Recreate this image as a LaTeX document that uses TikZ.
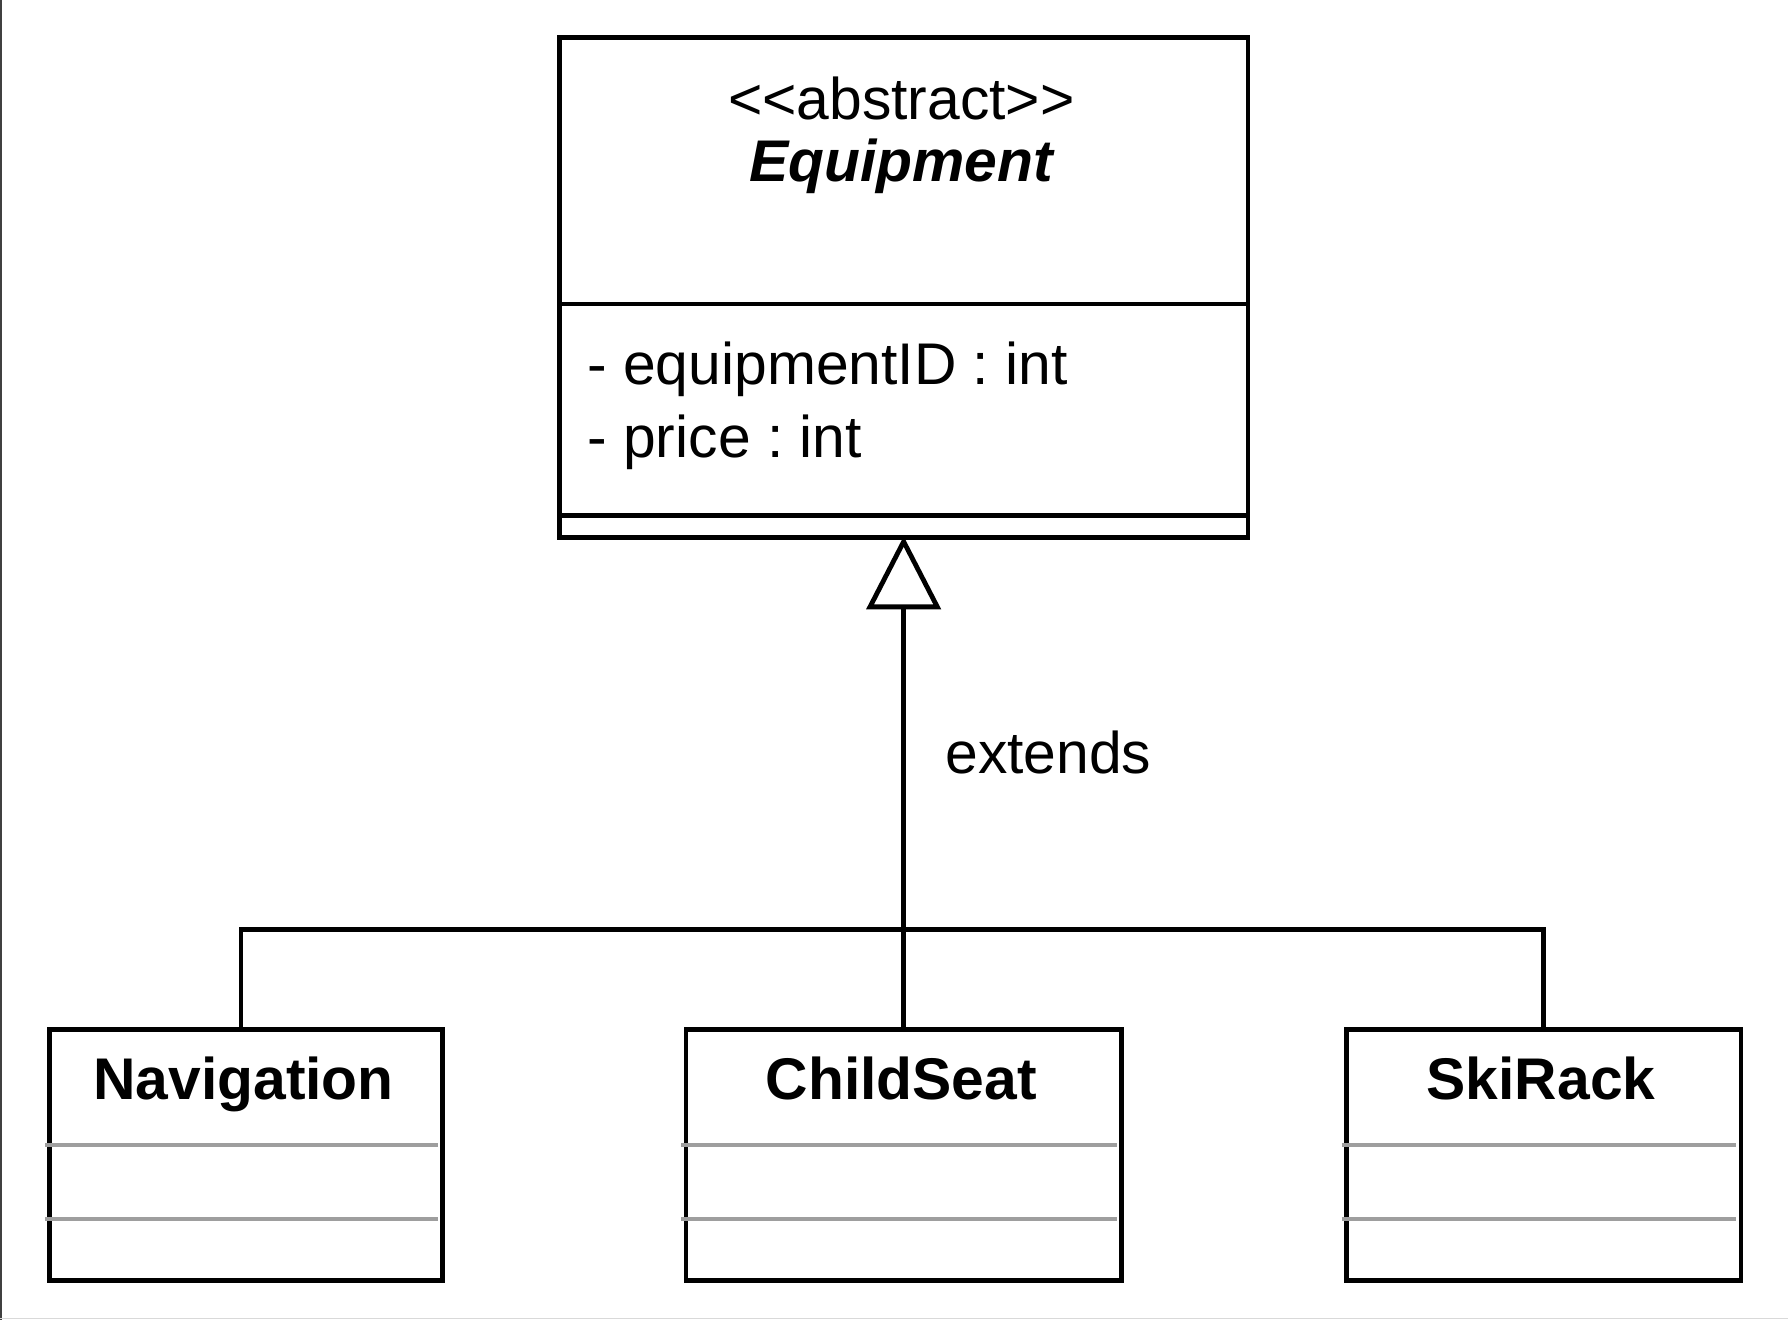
\documentclass[tikz,border=0pt]{standalone}
\usepackage{fontspec}
\setmainfont[Ligatures=NoCommon]{Liberation Sans}
\usetikzlibrary{arrows.meta}
\frenchspacing
\begin{document}
\begin{tikzpicture}[x=0.5pt,y=-0.5pt,
  classbox/.style={draw=black, line width=2.4pt, fill=white, inner sep=0pt, anchor=north west},
  divider/.style={draw=black, line width=2.4pt},
  graysep/.style={draw=black!38, line width=2pt},
  conn/.style={draw=black, line width=2.4pt},
  reg/.style={font=\fontsize{29.4}{35}\selectfont, inner sep=0pt},
  bold/.style={font=\fontsize{29.4}{35}\selectfont\bfseries, inner sep=0pt},
  inherit/.style={-{Triangle[open, length=36.5pt, width=37pt, line width=2.4pt]}, shorten >=-2pt}
]
\useasboundingbox (0,0) rectangle (1788,1320);
\fill[white] (0,0) rectangle (1788,1320);
% frame edges of the picture
\draw[line width=0.8pt, black!75] (0.8,0) -- (0.8,1320);
\draw[line width=0.8pt, black!15] (0,1318.5) -- (1788,1318.5);

% abstract class
\node[classbox, minimum width=344.25pt, minimum height=250pt] (equip) at (557,35.5) {};
\draw[divider] (557,304) -- (1245.5,304);
\draw[divider] (557,515.5) -- (1245.5,515.5);
\node[reg, anchor=base] (stereo) at (901.25,120) {<{}<abstract>{}>};
\node[bold, anchor=base] (equipname) at (901.25,182) {\itshape Equipment};
\node[reg, anchor=base west] (attr1) at (587,385) {- equipmentID : int};
\node[reg, anchor=base west] (attr2) at (587,458) {- price : int};

% subclasses
\node[classbox, minimum width=196.5pt, minimum height=125.5pt] (nav) at (47,1027) {};
\node[classbox, minimum width=217.75pt, minimum height=125.5pt] (cs) at (683.5,1027) {};
\node[classbox, minimum width=197.25pt, minimum height=125.5pt] (ski) at (1344,1027) {};

\node[bold, anchor=base] (navname) at (243.5,1099) {Navigation};
\node[bold, anchor=base] (csname) at (901.25,1099) {ChildSeat};
\node[bold, anchor=base] (skiname) at (1541,1099) {SkiRack};

\foreach \y in {1145.3,1219.3}{
  \draw[graysep] (45,\y) -- (437.6,\y);
  \draw[graysep] (681.1,\y) -- (1116.6,\y);
  \draw[graysep] (1341.6,\y) -- (1736.1,\y);
}

% inheritance connectors
\coordinate (junction) at (901.25,929.5);
\draw[conn] ([xshift=-2.5pt]nav.north) |- (junction) -| (ski.north);
\draw[conn, inherit] (cs.north) -- (equip.south);
\node[reg, anchor=base west] (extends) at (945,773) {extends};
\end{tikzpicture}
\end{document}
